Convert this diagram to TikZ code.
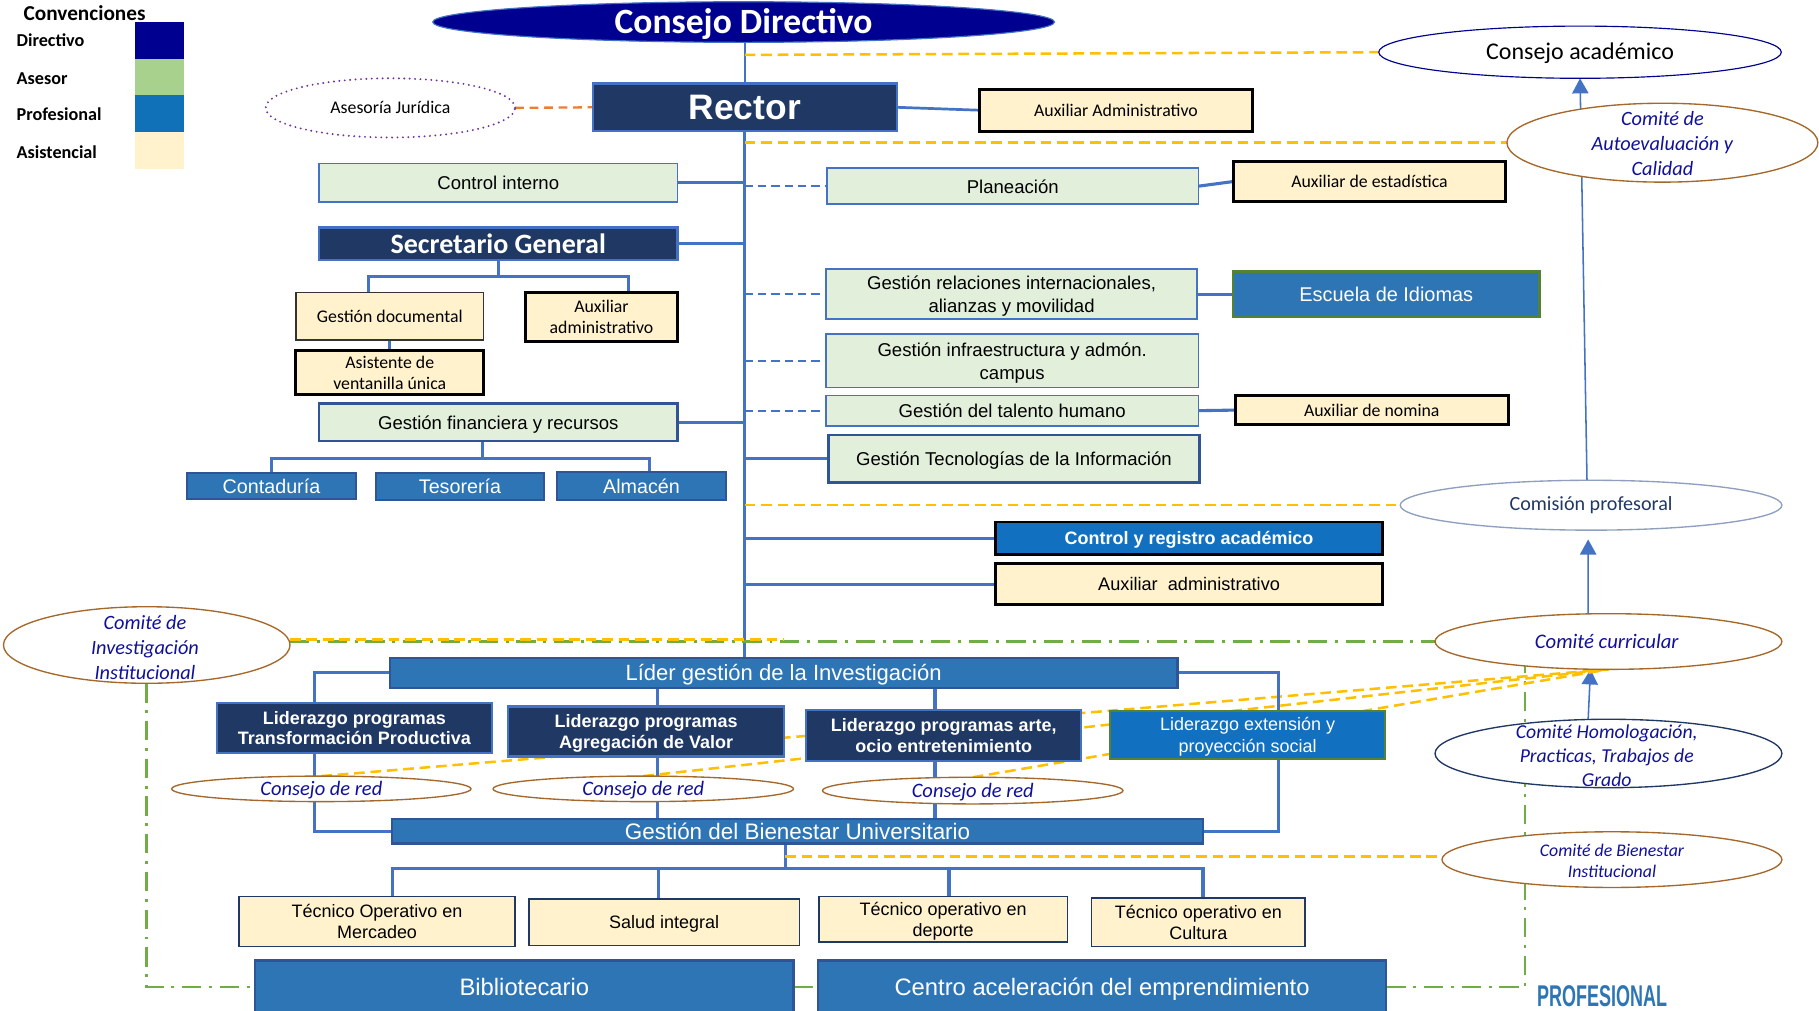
\documentclass[tikz,border=0pt]{standalone}
\usepackage{fontspec}
\setmainfont{Carlito}
\newfontfamily\arial{Liberation Sans}
\usetikzlibrary{shapes.geometric,arrows.meta,calc,backgrounds}
\definecolor{navy}{HTML}{203864}
\definecolor{lblue}{HTML}{4472C4}
\definecolor{pblue}{HTML}{2E75B6}
\definecolor{pbord}{HTML}{2F5597}
\definecolor{cblue}{HTML}{1170C0}
\definecolor{lgreen}{HTML}{E2EFDA}
\definecolor{cream}{HTML}{FFF2CC}
\definecolor{ogold}{HTML}{FFC000}
\definecolor{oorange}{HTML}{ED7D31}
\definecolor{purp}{HTML}{7030A0}
\definecolor{brownl}{HTML}{A5682A}
\definecolor{itblue}{HTML}{10109A}
\definecolor{dgreen}{HTML}{70AD47}
\definecolor{gborder}{HTML}{548235}
\definecolor{dirblue}{HTML}{000090}
\definecolor{asgreen}{HTML}{A9D18E}
\definecolor{legprof}{HTML}{1070B8}
\definecolor{cpgray}{HTML}{8EA0BE}
\newcommand{\bx}[7]{\node[base,#6,minimum width={(#4-#2)*0.6pt},minimum height={(#5-#3)*0.6pt}] (#1) at ({(#2+#4)/2},{(#3+#5)/2}) {#7};}
\newcommand{\el}[6]{\node[base,ellipse,fill=white,#6,minimum width={#4*0.6pt},minimum height={#5*0.6pt}] (#1) at (#2,#3) {};}
\begin{document}
\begin{tikzpicture}[x=0.6pt,y=-0.6pt,
  base/.style={rectangle,inner sep=0pt,outer sep=0pt,align=center,text depth=0pt},
  calf/.style={font=\fontsize{9.2}{10.8}\selectfont},
  arf/.style={font=\arial\fontsize{9.6}{12}\selectfont},
  arfb/.style={font=\arial\bfseries\fontsize{9.3}{10.8}\selectfont},
  itf/.style={text=itblue,font=\itshape\fontsize{10.5}{12.9}\selectfont,align=center},
  leg/.style={anchor=west,inner sep=0pt,font=\bfseries\fontsize{9.4}{11}\selectfont},
  navybox/.style={fill=navy,draw=lblue,line width=1.2pt,text=white},
  greenbox/.style={fill=lgreen,draw=lblue,line width=0.8pt,arf},
  greenboxb/.style={fill=lgreen,draw=pbord,line width=1.3pt,arf},
  creambox/.style={fill=cream,draw=black,line width=1.5pt,calf},
  creamthin/.style={fill=cream,draw=black!80,line width=0.7pt,calf},
  techbox/.style={fill=cream,draw=navy,line width=0.7pt,font=\arial\fontsize{9.3}{10.8}\selectfont},
  profbox/.style={fill=pblue,draw=pbord,line width=1.2pt,text=white,font=\arial\fontsize{10.2}{12}\selectfont},
  brel/.style={draw=brownl,line width=0.7pt},
  conn/.style={draw=lblue,line width=1.6pt},
  dconn/.style={draw=lblue,line width=1pt,dash pattern=on 4.2pt off 2.7pt},
  odash/.style={draw=ogold,line width=1.3pt,dash pattern=on 5.5pt off 3pt},
  gdash/.style={draw=dgreen,line width=1.3pt,dash pattern=on 10pt off 4pt on 1.5pt off 4pt},
  arr/.style={draw=lblue,line width=0.8pt,-{Triangle[length=7.8pt,width=8.4pt]}}
]
\useasboundingbox (0,0) rectangle (1568,871);

% legend
\node[anchor=west,inner sep=0pt,font=\bfseries\fontsize{11}{13}\selectfont] (conv) at (20,11.5) {Convenciones};
\node[leg] (ldir) at (14,35) {Directivo};
\node[leg] (lase) at (14,67.5) {Asesor};
\node[leg] (lpro) at (14,98.5) {Profesional};
\node[leg] (lasi) at (14,131) {Asistencial};
\bx{lg1}{116}{19}{159}{51}{fill=dirblue}{}
\bx{lg2}{116}{51}{159}{82}{fill=asgreen}{}
\bx{lg3}{116}{82}{159}{114}{fill=legprof}{}
\bx{lg4}{116}{114}{159}{146}{fill=cream}{}

% top
\node[base,ellipse,fill=dirblue,draw=lblue,line width=0.6pt,minimum width={536*0.6pt},minimum height={35*0.6pt}] (cdir) at (641,19) {};
\node[text=white,font=\bfseries\fontsize{18.4}{22}\selectfont] (cdirt) at (641,21) {Consejo Directivo};
\bx{rector}{511}{72}{773}{113}{navybox,font=\arial\bfseries\fontsize{18.3}{22}\selectfont}{Rector}
\node[base,ellipse,draw=purp,line width=1.1pt,dash pattern=on 0pt off 2.8pt,line cap=round,fill=white,minimum width={215*0.6pt},minimum height={51*0.6pt}] (asesor) at (336.5,93) {};
\node[calf] (asesort) at (asesor) {Asesoría Jurídica};
\bx{auxadm}{844}{77}{1080}{113}{creambox}{Auxiliar Administrativo}
\el{cacad}{1362}{45}{347}{45}{draw=dirblue,line width=0.6pt}
\node[font=\fontsize{12.4}{14}\selectfont] (cacadt) at (1362,46) {Consejo académico};
\el{autoev}{1433}{123}{268}{68}{brel}
\node[itf] (autoevt) at (1433,124) {Comité de\\Autoevaluación y\\Calidad};

% left column
\bx{ctrl}{275}{141}{584}{174}{greenbox}{Control interno}
\bx{secgen}{275}{196}{584}{224}{navybox,font=\bfseries\fontsize{14.5}{17}\selectfont}{Secretario General}
\bx{gdoc}{255}{252}{417}{293}{creamthin}{Gestión documental}
\bx{auxsec}{453}{252}{584}{294}{creambox}{Auxiliar\\administrativo}
\bx{asist}{255}{302}{417}{340}{creambox}{Asistente de\\ventanilla única}
\bx{gfin}{275}{348}{584}{380}{greenboxb}{Gestión financiera y recursos}
\bx{conta}{161}{408}{307}{430}{profbox}{Contaduría}
\bx{teso}{324}{408}{469}{431}{profbox}{Tesorería}
\bx{alma}{480}{407}{626}{431}{profbox}{Almacén}

% right column
\bx{plan}{713}{145}{1033}{176}{greenbox}{Planeación}
\bx{auxest}{1063}{139}{1298}{174}{creambox}{Auxiliar de estadística}
\bx{grel}{712}{232}{1032}{275}{greenbox}{Gestión relaciones internacionales,\\alianzas y movilidad}
\bx{escid}{1063}{234}{1327}{273}{profbox,draw=gborder,font=\arial\fontsize{10.3}{12}\selectfont}{Escuela de Idiomas}
\bx{ginf}{712}{288}{1033}{334}{greenbox}{Gestión infraestructura y admón.\\campus}
\bx{gtal}{712}{341}{1033}{367}{greenbox}{Gestión del talento humano}
\bx{auxnom}{1065}{341}{1300}{366}{creambox}{Auxiliar de nomina}
\bx{gtic}{714}{375}{1034}{416}{greenboxb}{Gestión Tecnologías de la Información}
\el{comprof}{1371.5}{435.5}{329}{43}{draw=cpgray,line width=0.7pt}
\node[text=navy,font=\fontsize{10.4}{12}\selectfont] (comproft) at (comprof) {Comisión profesoral};
\bx{creg}{858}{450}{1192}{478}{fill=cblue,draw=black,line width=1.5pt,text=white,arfb}{Control y registro académico}
\bx{auxadm2}{858}{486}{1192}{521}{creambox,font=\arial\fontsize{9.4}{12}\selectfont}{Auxiliar\ \ administrativo}

% committees
\el{curr}{1386.5}{553}{299}{48}{brel}
\node[itf,font=\itshape\fontsize{10.7}{12.9}\selectfont] (currt) at (1385,553) {Comité curricular};
\el{homol}{1386.5}{649.5}{299}{59}{draw=navy,line width=0.7pt}
\node[itf,font=\itshape\fontsize{10.2}{12.6}\selectfont] (homolt) at (1385,651.5) {Comité Homologación,\\Practicas, Trabajos de\\Grado};
\el{bien}{1389.5}{741}{293}{48}{brel}
\node[itf,font=\itshape\fontsize{9.2}{10.8}\selectfont] (bient) at (1389.5,742) {Comité de Bienestar\\Institucional};
\el{inv}{126.5}{556}{247}{66}{brel}
\node[itf] (invt) at (125,558) {Comité de\\Investigación\\Institucional};

% research block
\bx{lider}{336}{567}{1015}{593}{profbox,font=\arial\fontsize{11.4}{13}\selectfont}{Líder gestión de la Investigación}
\bx{ltp}{187}{606}{424}{649}{navybox,arfb}{Liderazgo programas\\Transformación Productiva}
\bx{lav}{438}{609}{676}{652}{navybox,arfb}{Liderazgo programas\\Agregación de Valor}
\bx{lart}{695}{612}{932}{656}{navybox,arfb}{Liderazgo programas arte,\\ocio entretenimiento}
\bx{lext}{957}{613}{1194}{654}{fill=cblue,draw=gborder,line width=1.2pt,text=white,font=\arial\fontsize{9.3}{11}\selectfont}{Liderazgo extensión y\\proyección social}
\el{cr1}{277}{680}{258}{22}{brel}
\node[itf,font=\itshape\fontsize{10.6}{12}\selectfont] (cr1t) at (277,681) {Consejo de red};
\el{cr2}{554.5}{680}{259}{22}{brel}
\node[itf,font=\itshape\fontsize{10.6}{12}\selectfont] (cr2t) at (554.5,681) {Consejo de red};
\el{cr3}{838.5}{681.5}{259}{23}{brel}
\node[itf,font=\itshape\fontsize{10.6}{12}\selectfont] (cr3t) at (838.5,682.5) {Consejo de red};

% bienestar block
\bx{gbien}{338}{706}{1037}{727}{profbox,font=\arial\fontsize{11.6}{13}\selectfont}{Gestión del Bienestar Universitario}
\bx{tmerc}{206}{773}{444}{816}{techbox}{Técnico Operativo en\\Mercadeo}
\bx{salud}{456}{775}{689}{815}{techbox}{Salud integral}
\bx{tdep}{706}{773}{920}{812}{techbox}{Técnico operativo en\\deporte}
\bx{tcult}{941}{774}{1125}{816}{techbox}{Técnico operativo en\\Cultura}
\bx{biblio}{220}{828}{684}{874}{profbox,font=\arial\fontsize{12.3}{14}\selectfont}{Bibliotecario}
\bx{centro}{705}{828}{1195}{874}{profbox,font=\arial\fontsize{12.3}{14}\selectfont}{Centro aceleración del emprendimiento}
\node[anchor=base,inner sep=0pt,text=pblue,font=\arial\bfseries\fontsize{15.5}{18}\selectfont,xscale=0.6] (prof) at (1381,868) {PROFESIONAL};

% connectors
\begin{scope}[on background layer]
\fill[white] (0,0) rectangle (1568,871);
\coordinate (M) at (rector.south);
\draw[conn,line width=1.3pt] (rector.north |- cdir.south) -- (rector.north);
\draw[conn] (rector.south) -- (rector.south |- lider.north);
\draw[draw=oorange,line width=1.2pt,dash pattern=on 4.5pt off 3pt] (asesor.east) -- (rector.west);
\draw[conn,line width=1.4pt] (rector.east) -- (auxadm.west);
\draw[odash] ([yshift=-1.4pt]cacad.west -| M) -- (cacad.west);
\draw[odash] (autoev.west -| M) -- (autoev.west);
\draw[conn] (ctrl.east) -- (ctrl.east -| M);
\draw[dconn] (plan.west -| M) -- (plan.west);
\draw[conn] (plan.east) -- (auxest.west);
\draw[conn] (secgen.east) -- (secgen.east -| M);
\coordinate (sgb) at ($(secgen.south)+(0,14)$);
\coordinate (gdx) at ([xshift=-10.8pt]gdoc.north);
\coordinate (asx) at ([xshift=14.1pt]auxsec.north);
\draw[conn] (secgen.south) -- (sgb);
\draw[conn] (gdx) |- (sgb) -| (asx);
\draw[conn] (gdoc.south) -- (asist.north);
\draw[conn] (gfin.east) -- (gfin.east -| M);
\coordinate (gfx) at ([xshift=-8.1pt]gfin.south);
\coordinate (gfb) at ($(gfx)+(0,15)$);
\coordinate (alx) at ([xshift=4.2pt]alma.north);
\draw[conn] (gfx) -- (gfb);
\draw[conn] (conta.north) |- (gfb) -| (alx);
\draw[dconn] (grel.west -| M) -- (grel.west);
\draw[conn] (grel.east) -- (escid.west);
\draw[dconn] (ginf.west -| M) -- (ginf.west);
\draw[dconn] (gtal.west -| M) -- (gtal.west);
\draw[conn] (gtal.east) -- (auxnom.west);
\draw[conn] (gtic.west -| M) -- (gtic.west);
\draw[odash] (comprof.west -| M) -- (comprof.west);
\draw[conn] (creg.west -| M) -- (creg.west);
\draw[conn] (auxadm2.west -| M) -- (auxadm2.west);
% arrows
\draw[arr] ([xshift=-2.1pt]comprof.north) -- (cacad.south);
\draw[arr] ([xshift=-10.5pt]curr.north) -- ([xshift=-1.5pt,yshift=-4.8pt]comprof.south);
\draw[arr] ([xshift=-10.5pt]homol.north) -- ([xshift=-9.3pt]curr.south);
% green dash-dot
\draw[gdash] (curr.west -| inv.east) -- (curr.west);
\draw[gdash] (inv.south) |- (biblio.west);
\draw[gdash] (biblio.east) -- (centro.west);
\coordinate (grx) at ([xshift=-43.2pt]curr.center);
\draw[gdash] (centro.east) -| (grx);
% orange dashed
\draw[odash] ([yshift=1pt]curr.west -| inv.east) -- ([yshift=1pt]curr.west -| lider.north);
\draw[odash] (cr1.north) -- (curr.south);
\draw[odash] (cr2.north) -- (curr.south);
\draw[odash] (cr3.north) -- (curr.south);
% research buses
\coordinate (ltx) at ([xshift=-20.7pt]ltp.north);
\coordinate (lex) at ([xshift=15.9pt]lext.north);
\coordinate (lavx) at ([xshift=6pt]lav.north);
\coordinate (lartx) at ([xshift=-4.5pt]lart.north);
\draw[conn] (lider.west) -| (ltx) |- (gbien.west);
\draw[conn] (lider.east) -| (lex) |- (gbien.east);
\draw[conn] (lavx |- lider.south) -- (lavx |- gbien.north);
\draw[conn] (lartx |- lider.south) -- (lartx |- gbien.north);
% bienestar bus
\coordinate (gbd) at ([xshift=-6.3pt]gbien.south);
\coordinate (gbus) at ($(gbd)+(0,22)$);
\coordinate (tmx) at ([xshift=7.8pt]tmerc.north);
\coordinate (tcx) at ([xshift=2.4pt]tcult.north);
\coordinate (slx) at ([xshift=-2.7pt]salud.north);
\coordinate (tdx) at ([xshift=3pt]tdep.north);
\draw[conn] (gbd) -- (gbus);
\draw[conn] (tmx) |- (gbus) -| (tcx);
\draw[conn] (slx) -- (slx |- gbus);
\draw[conn] (tdx) -- (tdx |- gbus);
\draw[odash] ([yshift=1.5pt]bien.west -| gbd) -- ([yshift=1.5pt]bien.west);
\end{scope}
\end{tikzpicture}
\end{document}
